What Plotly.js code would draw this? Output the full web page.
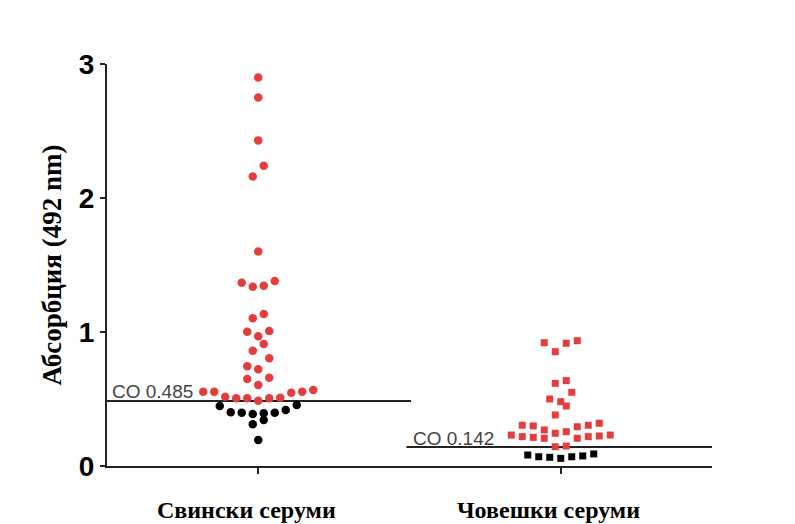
<!DOCTYPE html>
<html><head><meta charset="utf-8">
<script src="https://cdn.plot.ly/plotly-3.0.1.min.js"></script>
<style>html,body{margin:0;padding:0;background:#fff}#chart{width:795px;height:524px}</style>
</head><body><div id="chart"></div>
<script>
// ---- data ----
const categories = ['Свински серуми', 'Човешки серуми'];
const pigSera = [2.90, 2.75, 2.43, 2.24, 2.16, 1.60, 1.381, 1.368, 1.346, 1.338, 1.134, 1.102,
  1.007, 1.002, 0.968, 0.910, 0.860, 0.804, 0.744, 0.722, 0.659, 0.649, 0.604,
  0.567, 0.554, 0.554, 0.554, 0.547, 0.517, 0.510, 0.505, 0.505, 0.505, 0.487,
  0.455, 0.448, 0.418, 0.401, 0.398, 0.398, 0.393, 0.388, 0.343, 0.311, 0.194];
const humanSera = [0.935, 0.920, 0.916, 0.853, 0.637, 0.617, 0.550, 0.500, 0.480, 0.448,
  0.381, 0.319, 0.304, 0.304, 0.299, 0.293, 0.269, 0.256, 0.244, 0.231, 0.231, 0.224,
  0.219, 0.219, 0.214, 0.207, 0.207, 0.149, 0.144,
  0.090, 0.082, 0.075, 0.069, 0.069, 0.065, 0.057];
const cutoffs = [0.485, 0.142];
const yTickVals = [0, 1, 2, 3];

// ---- layout constants ----
const W = 795, H = 524;
const M = {l: 107, r: 83, t: 64, b: 58};
const xRange = [-0.5, 1.5];
const yRange = [0, 3];
const posColor = '#e43d3d', negColor = '#000000';
const binWidth = 0.12;      // value band per swarm row
const slotPx = 11;          // horizontal spacing of points in a row

const unitsPerPx = (xRange[1] - xRange[0]) / (W - M.l - M.r);

function swarmOffsets(values) {
  const bins = new Map();
  values.forEach((v, i) => {
    const b = Math.floor(v / binWidth + 1e-9);
    if (!bins.has(b)) bins.set(b, []);
    bins.get(b).push(i);
  });
  const off = new Array(values.length).fill(0);
  bins.forEach(idx => {
    idx.sort((a, b) => values[a] - values[b]);
    const n = idx.length;
    const slots = [];
    for (let k = 0; k < n; k++) slots.push(k - (n - 1) / 2);
    slots.sort((a, b) => Math.abs(a) - Math.abs(b) || a - b);
    idx.forEach((id, j) => { off[id] = slots[j] * slotPx * unitsPerPx; });
  });
  return off;
}

const groups = [pigSera, humanSera];
const symbols = ['circle', 'square'];
const sizes = [8.5, 7];
const traces = groups.map((vals, gi) => {
  const off = swarmOffsets(vals);
  return {
    type: 'scatter', mode: 'markers',
    x: vals.map((v, i) => gi + off[i]),
    y: vals,
    marker: {
      symbol: symbols[gi], size: sizes[gi],
      color: vals.map(v => v > cutoffs[gi] ? posColor : negColor),
      line: {width: 0}
    },
    hoverinfo: 'y', showlegend: false, cliponaxis: false
  };
});

const shapes = [
  {type: 'line', xref: 'x', yref: 'y', x0: -0.5, x1: 0.505, y0: cutoffs[0], y1: cutoffs[0],
   line: {color: '#222', width: 2}, layer: 'below'},
  {type: 'line', xref: 'x', yref: 'y', x0: 0.49, x1: 1.5, y0: cutoffs[1], y1: cutoffs[1],
   line: {color: '#222', width: 2}, layer: 'below'}
];

const coFont = {family: 'Arial, Liberation Sans, sans-serif', size: 19, color: '#444'};
const annotations = [
  {x: -0.5, y: cutoffs[0], xref: 'x', yref: 'y', xanchor: 'left', yanchor: 'bottom',
   xshift: 3, yshift: -3, showarrow: false, text: 'CO ' + cutoffs[0], font: coFont},
  {x: 0.5, y: cutoffs[1], xref: 'x', yref: 'y', xanchor: 'left', yanchor: 'bottom',
   xshift: 1, yshift: -4, showarrow: false, text: 'CO ' + cutoffs[1], font: coFont}
].concat(categories.map((c, i) => ({
  x: i, y: 0, xref: 'x', yref: 'paper', xanchor: 'center', yanchor: 'bottom',
  xshift: -12, yshift: -59, showarrow: false, text: c,
  font: {family: 'Liberation Serif, Times New Roman, serif', size: 24, color: '#000', weight: 700}
})));

const layout = {
  width: W, height: H, margin: M,
  paper_bgcolor: '#fff', plot_bgcolor: '#fff',
  xaxis: {
    range: xRange, showgrid: false, zeroline: false,
    showline: true, linecolor: '#222', linewidth: 2,
    tickvals: [0, 1], ticktext: ['', ''], ticks: 'outside', ticklen: 6, tickwidth: 2, tickcolor: '#222',
    fixedrange: true
  },
  yaxis: {
    range: yRange, showgrid: false, zeroline: false,
    showline: true, linecolor: '#222', linewidth: 2,
    tickvals: yTickVals, ticks: 'outside', ticklen: 5, tickwidth: 2, tickcolor: '#222',
    tickfont: {family: 'Arial, Liberation Sans, sans-serif', size: 28, color: '#000', weight: 700},
    title: {text: 'Абсорбция (492 nm)', standoff: 9,
      font: {family: 'Liberation Serif, Times New Roman, serif', size: 27, color: '#000', weight: 700}},
    fixedrange: true
  },
  shapes: shapes,
  annotations: annotations
};

Plotly.newPlot('chart', traces, layout, {displayModeBar: false, staticPlot: true});
</script>
</body></html>
